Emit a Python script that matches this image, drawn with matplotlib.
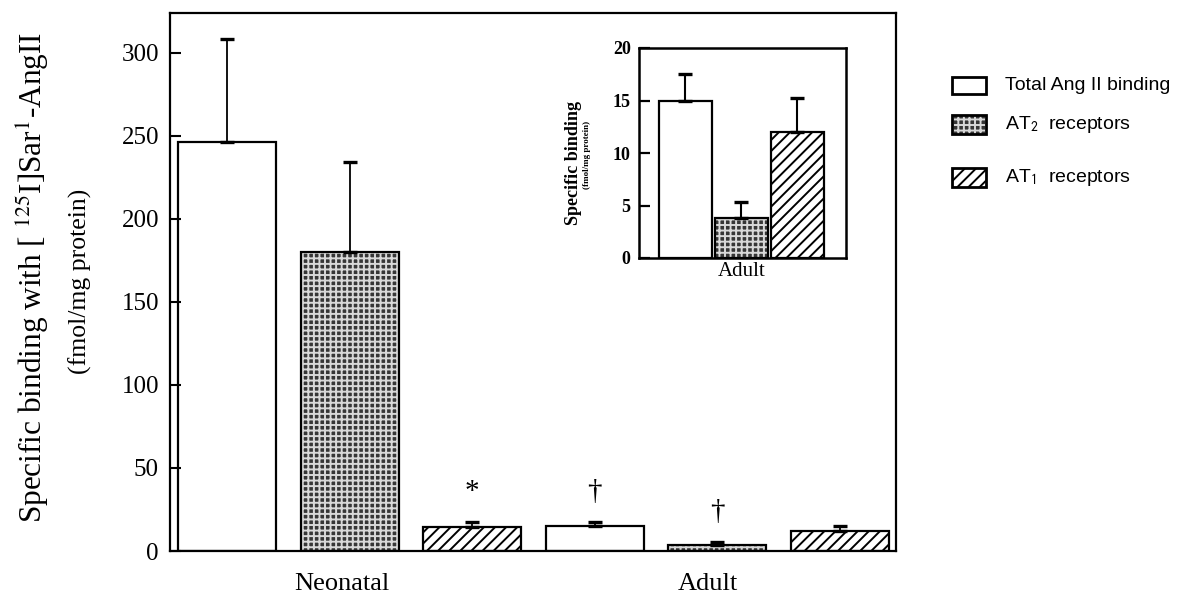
import numpy as np
import matplotlib
matplotlib.use("Agg")
import matplotlib.pyplot as plt
from matplotlib.patches import Rectangle

plt.rcParams["font.family"] = "Liberation Serif"
plt.rcParams["mathtext.fontset"] = "stix"
plt.rcParams["hatch.linewidth"] = 1.4

# data
groups = ["Neonatal", "Adult"]
series = ["Total Ang II binding", "AT$_2$  receptors", "AT$_1$  receptors"]
neonatal_mean = [246, 180, 14.5]
neonatal_err = [62, 54, 3.0]
adult_mean = [15, 3.8, 12]
adult_err = [2.5, 1.5, 3.2]
marks = ["", "", "*", "\u2020", "\u2020", ""]

W, H = 1185, 598

# face, hatch, hatch colour for each series
styles = [
    ("white", None, "black"),
    ("#363636", "+++", "#d8d8d8"),
    ("white", "///", "black"),
]


def px(x, y):
    return x / W, 1 - y / H


def draw_bars(ax, x, h, s, width):
    face, hatch, hcol = styles[s]
    if hatch:
        ax.bar(x, h, width, color=face, edgecolor=hcol, hatch=hatch, linewidth=0)
    else:
        ax.bar(x, h, width, color=face, linewidth=0)
    ax.bar(x, h, width, fill=False, edgecolor="black", linewidth=1.6)


fig = plt.figure(figsize=(W / 100, H / 100), dpi=100)

# main panel
ax = fig.add_axes([170 / W, 47 / H, 726 / W, 538.3 / H])
heights = np.array(neonatal_mean + adult_mean)
errs = np.array(neonatal_err + adult_err)
x = np.arange(len(heights))
for s in range(3):
    idx = [s, s + 3]
    draw_bars(ax, x[idx], heights[idx], s, 0.8)
ax.errorbar(x, heights, yerr=[np.zeros_like(errs), errs], fmt="none",
            ecolor="black", elinewidth=1.3, capsize=5, capthick=2.4)
for xi, m, top in zip(x, marks, heights + errs):
    if m:
        ax.text(xi, top + 18, m, ha="center", va="center", fontsize=21)

ax.set_xlim(-0.465, 5.457)
ax.set_ylim(0, 324)
ax.set_yticks(range(0, 301, 50))
ax.tick_params(axis="y", direction="in", length=8, width=1.5, labelsize=18, pad=8)
ax.set_xticks([0.94, 3.92], groups)
ax.tick_params(axis="x", length=0, labelsize=19, pad=16)
for sp in ax.spines.values():
    sp.set_linewidth(1.6)

fig.text(*px(33, 278), "Specific binding with [ $^{125}$I]Sar$^{1}$-AngII",
         rotation=90, ha="center", va="center", fontsize=22.5)
fig.text(*px(80, 281), "(fmol/mg protein)", rotation=90, ha="center",
         va="center", fontsize=18.5)

# inset: adult values only
ins = fig.add_axes([639 / W, (H - 258) / H, 207 / W, 210 / H])
xa = np.arange(3)
for s in range(3):
    draw_bars(ins, xa[s:s + 1], adult_mean[s:s + 1], s, 0.95)
ins.errorbar(xa, adult_mean, yerr=[np.zeros(3), adult_err], fmt="none",
             ecolor="black", elinewidth=1.5, capsize=5, capthick=2.4)
ins.set_xlim(-0.83, 2.87)
ins.set_ylim(0, 20)
ins.set_yticks(range(0, 21, 5))
ins.tick_params(axis="y", direction="in", length=8, width=1.6, labelsize=13, pad=6)
ins.set_xticks([1], [groups[1]])
ins.tick_params(axis="x", length=0, labelsize=15, pad=3)
for lab in ins.get_yticklabels():
    lab.set_fontweight("bold")
for sp in ins.spines.values():
    sp.set_linewidth(1.8)
fig.text(*px(573, 163), "Specific binding", rotation=90, ha="center",
         va="center", fontsize=13, weight="bold")
fig.text(*px(587, 155), "(fmol/mg protein)", rotation=90, ha="center",
         va="center", fontsize=6.5, weight="bold")

# legend drawn by hand at the right
boxes = [(77, 94), (115, 134), (168, 187)]
for s, (label, (y0, y1)) in enumerate(zip(series, boxes)):
    face, hatch, hcol = styles[s]
    bx, by = px(952, y1)
    bw, bh = 34 / W, (y1 - y0) / H
    if hatch:
        fig.patches.append(Rectangle((bx, by), bw, bh, transform=fig.transFigure,
                                     facecolor=face, edgecolor=hcol, hatch=hatch,
                                     linewidth=0))
    fig.patches.append(Rectangle((bx, by), bw, bh, transform=fig.transFigure,
                                 fill=False, edgecolor="black", linewidth=2))
    fig.text(*px(1005, (y0 + y1) / 2), label, ha="left", va="center",
             fontsize=14, family="Liberation Sans", math_fontfamily="stixsans")

fig.savefig("out.png", dpi=100, facecolor="white")
